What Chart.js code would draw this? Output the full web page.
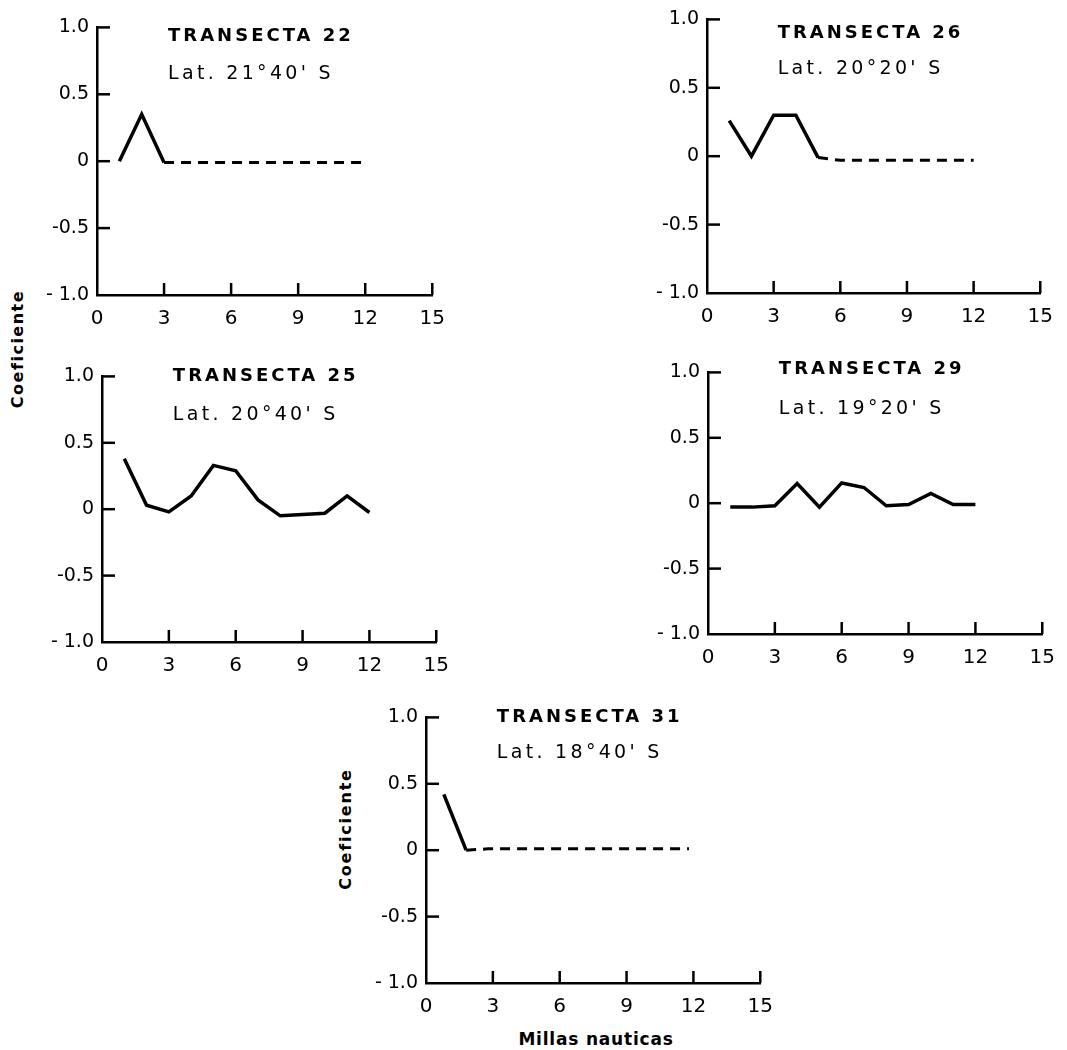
<!DOCTYPE html>
<html>
<head>
<meta charset="utf-8">
<script src="https://cdn.jsdelivr.net/npm/chart.js@4.4.1/dist/chart.umd.min.js"></script>
<style>
  body { margin: 0; background: #fff; }
  #page { position: relative; width: 1067px; height: 1050px; overflow: hidden; background: #fff; }
  canvas { position: absolute; }
  .lbl { position: absolute; white-space: nowrap; color: #000; font-family: "DejaVu Sans", sans-serif; font-weight: bold; transform: translate(-50%, -50%); }
  .rot { transform: translate(-50%, -50%) rotate(-90deg); }
</style>
</head>
<body>
<div id="page">
  <canvas id="t22"></canvas>
  <canvas id="t26"></canvas>
  <canvas id="t25"></canvas>
  <canvas id="t29"></canvas>
  <canvas id="t31"></canvas>
  <div class="lbl rot" style="left:17px; top:349px; font-size:16px; letter-spacing:1.5px;">Coeficiente</div>
  <div class="lbl rot" style="left:345px; top:829px; font-size:16px; letter-spacing:1.8px;">Coeficiente</div>
  <div class="lbl" style="left:596px; top:1039px; font-size:17px; letter-spacing:0.8px;">Millas nauticas</div>
</div>
<script>
// tick values / labels shared by all panels
const yTicks = [-1, -0.5, 0, 0.5, 1];
const yTickLabels = ['- 1.0', '-0.5', '0', '0.5', '1.0'];
const xTicks = [0, 3, 6, 9, 12, 15];

// distance from coast (nautical miles)
const miles = [1, 2, 3, 4, 5, 6, 7, 8, 9, 10, 11, 12];
const milesT31 = [0.8, 1.8, 2.8, 3.8, 4.8, 5.8, 6.8, 7.8, 8.8, 9.8, 10.8, 11.8];

// coefficient per transect
const t22Coef = [0.0, 0.35, -0.01, -0.01, -0.01, -0.01, -0.01, -0.01, -0.01, -0.01, -0.01, -0.01];
const t26Coef = [0.26, 0.0, 0.30, 0.30, -0.01, -0.03, -0.03, -0.03, -0.03, -0.03, -0.03, -0.03];
const t25Coef = [0.38, 0.03, -0.02, 0.10, 0.33, 0.29, 0.07, -0.05, -0.04, -0.03, 0.10, -0.025];
const t29Coef = [-0.03, -0.03, -0.02, 0.15, -0.03, 0.155, 0.12, -0.02, -0.01, 0.075, -0.01, -0.01];
const t31Coef = [0.42, 0.0, 0.01, 0.01, 0.01, 0.01, 0.01, 0.01, 0.01, 0.01, 0.01, 0.01];

const titles = ['TRANSECTA 22', 'TRANSECTA 26', 'TRANSECTA 25', 'TRANSECTA 29', 'TRANSECTA 31'];
const lats = ["Lat. 21\u00b040' S", "Lat. 20\u00b020' S", "Lat. 20\u00b040' S", "Lat. 19\u00b020' S", "Lat. 18\u00b040' S"];

// panel placement: plot area edges in page pixels
const panels = [
    { id: 't22', left: 97,  right: 443,  top: 23,  bottom: 295, xs: miles,    ys: t22Coef, dashFrom: 2,  titleY: 0.93, latY: 0.65 },
    { id: 't26', left: 707, right: 1051, top: 15,  bottom: 293, xs: miles,    ys: t26Coef, dashFrom: 4,  titleY: 0.90, latY: 0.64 },
    { id: 't25', left: 102, right: 447,  top: 372, bottom: 642, xs: miles,    ys: t25Coef, dashFrom: -1, titleY: 1.00, latY: 0.71 },
    { id: 't29', left: 708, right: 1053, top: 368, bottom: 634, xs: miles,    ys: t29Coef, dashFrom: -1, titleY: 1.02, latY: 0.72 },
    { id: 't31', left: 426, right: 771,  top: 713, bottom: 983, xs: milesT31, ys: t31Coef, dashFrom: 1,  titleY: 1.00, latY: 0.73 }
];

const Y_AXIS_W = 70;
const X_AXIS_H = 40;
const PAD_TOP = 15;
const PAD_RIGHT = 14;

// inward tick marks + panel titles
const panelDecor = {
    id: 'panelDecor',
    afterDraw(chart, args, opts) {
        const ctx = chart.ctx;
        const a = chart.chartArea;
        const x = chart.scales.x;
        const y = chart.scales.y;
        ctx.save();
        ctx.strokeStyle = '#000';
        ctx.lineWidth = 2.5;
        ctx.lineCap = 'butt';
        yTicks.forEach(function(v) {
            if (v === -1) return;
            const py = y.getPixelForValue(v);
            ctx.beginPath();
            ctx.moveTo(a.left, py);
            ctx.lineTo(a.left + 13, py);
            ctx.stroke();
        });
        xTicks.forEach(function(v) {
            if (v === 0) return;
            const px = x.getPixelForValue(v);
            ctx.beginPath();
            ctx.moveTo(px, a.bottom);
            ctx.lineTo(px, a.bottom - 12);
            ctx.stroke();
        });

        ctx.fillStyle = '#000';
        ctx.textBaseline = 'middle';
        ctx.textAlign = 'left';
        const tx = x.getPixelForValue(3) + 4;
        ctx.font = 'bold 18px "DejaVu Sans"';
        ctx.letterSpacing = '3px';
        ctx.fillText(opts.title, tx, y.getPixelForValue(opts.titleY));
        ctx.font = '19px "DejaVu Sans"';
        ctx.letterSpacing = '3.3px';
        ctx.fillText(opts.lat, tx, y.getPixelForValue(opts.latY));
        ctx.restore();
    }
};

function makePanel(p, idx) {
    const canvas = document.getElementById(p.id);
    const w = p.right - p.left + Y_AXIS_W + PAD_RIGHT;
    const h = p.bottom - p.top + PAD_TOP + X_AXIS_H;
    canvas.width = w;
    canvas.height = h;
    canvas.style.left = (p.left - Y_AXIS_W) + 'px';
    canvas.style.top = (p.top - PAD_TOP) + 'px';

    const points = p.xs.map(function(v, i) { return { x: v, y: p.ys[i] }; });

    new Chart(canvas.getContext('2d'), {
        type: 'line',
        data: {
            datasets: [{
                data: points,
                borderColor: '#000',
                borderWidth: 3.5,
                pointRadius: 0,
                tension: 0,
                fill: false,
                segment: {
                    borderDash: function(c) {
                        return (p.dashFrom >= 0 && c.p0DataIndex >= p.dashFrom) ? [10, 7] : undefined;
                    },
                    borderWidth: function(c) {
                        return (p.dashFrom >= 0 && c.p0DataIndex >= p.dashFrom) ? 3 : undefined;
                    }
                }
            }]
        },
        options: {
            responsive: false,
            animation: false,
            events: [],
            layout: {
                autoPadding: false,
                padding: { top: PAD_TOP, right: PAD_RIGHT, bottom: 0, left: 0 }
            },
            plugins: {
                legend: { display: false },
                tooltip: { enabled: false },
                panelDecor: { title: titles[idx], lat: lats[idx], titleY: p.titleY, latY: p.latY }
            },
            scales: {
                x: {
                    type: 'linear',
                    min: 0,
                    max: 15,
                    afterFit: function(s) { s.height = X_AXIS_H; },
                    afterBuildTicks: function(s) { s.ticks = xTicks.map(function(v) { return { value: v }; }); },
                    grid: { display: true, drawOnChartArea: false, drawTicks: false },
                    border: { display: true, color: '#000', width: 2.5 },
                    ticks: {
                        color: '#000',
                        padding: 12,
                        maxRotation: 0,
                        font: { family: 'DejaVu Sans', size: 20 }
                    }
                },
                y: {
                    min: -1,
                    max: 1,
                    afterFit: function(s) { s.width = Y_AXIS_W; },
                    afterBuildTicks: function(s) { s.ticks = yTicks.map(function(v) { return { value: v }; }); },
                    grid: { display: true, drawOnChartArea: false, drawTicks: false },
                    border: { display: true, color: '#000', width: 2.5 },
                    ticks: {
                        color: '#000',
                        padding: 8,
                        font: { family: 'DejaVu Sans', size: 19 },
                        callback: function(v) {
                            const i = yTicks.indexOf(v);
                            return i >= 0 ? yTickLabels[i] : '';
                        }
                    }
                }
            }
        },
        plugins: [panelDecor]
    });
}

panels.forEach(makePanel);
</script>
</body>
</html>
